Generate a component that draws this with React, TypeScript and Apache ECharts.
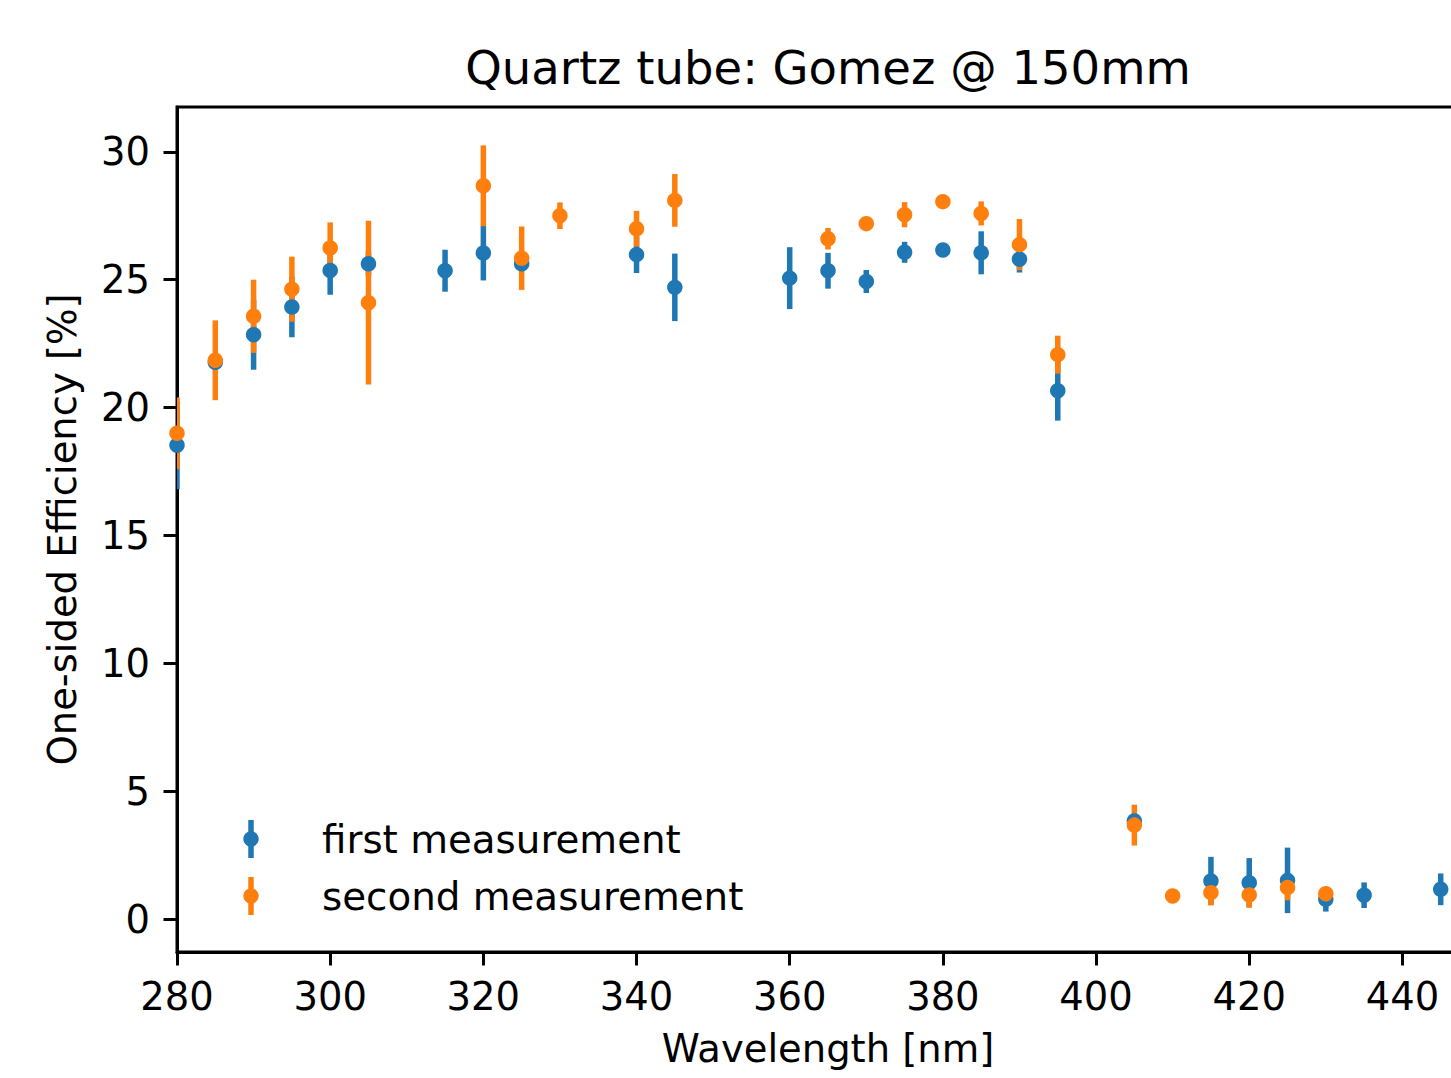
import React, { useEffect, useRef } from "react";
import * as echarts from "echarts";

const wavelengthsFirst = [280, 285, 290, 295, 300, 305, 315, 320, 325, 340, 345, 360, 365, 370, 375, 380, 385, 390, 395, 405, 415, 420, 425, 430, 435, 445];
const efficiencyFirst = [18.53, 21.77, 22.85, 23.93, 25.36, 25.62, 25.35, 26.04, 25.62, 25.98, 24.7, 25.06, 25.35, 24.93, 26.07, 26.16, 26.05, 25.8, 20.66, 3.84, 1.5, 1.43, 1.52, 0.78, 0.94, 1.17];
const errorFirst = [1.72, 0.3, 1.37, 1.18, 0.95, 0.5, 0.82, 1.07, 0.3, 0.72, 1.32, 1.21, 0.7, 0.45, 0.41, 0.2, 0.84, 0.52, 1.17, 0.3, 0.94, 0.96, 1.28, 0.48, 0.5, 0.62];

const wavelengthsSecond = [280, 285, 290, 295, 300, 305, 320, 325, 330, 340, 345, 365, 370, 375, 380, 385, 390, 395, 405, 410, 415, 420, 425, 430];
const efficiencySecond = [19.0, 21.85, 23.57, 24.63, 26.24, 24.1, 28.67, 25.84, 27.5, 26.99, 28.1, 26.6, 27.19, 27.54, 28.05, 27.59, 26.37, 22.07, 3.68, 0.91, 1.04, 0.95, 1.24, 1.0];
const errorSecond = [1.4, 1.56, 1.43, 1.27, 1.0, 3.2, 1.58, 1.24, 0.52, 0.7, 1.03, 0.42, 0.2, 0.49, 0.2, 0.47, 1.0, 0.74, 0.8, 0.1, 0.5, 0.5, 0.5, 0.2];

const xTicks = [280, 300, 320, 340, 360, 380, 400, 420, 440];
const yTicks = [0, 5, 10, 15, 20, 25, 30];
const seriesNames = ["first measurement", "second measurement"];
const titleText = "Quartz tube: Gomez @ 150mm";
const xName = "Wavelength [nm]";
const yName = "One-sided Efficiency [%]";

const BLUE = "#1f77b4";
const ORANGE = "#ff7f0e";
const FONT = "DejaVu Sans";

export default function App() {
  const ref = useRef<HTMLDivElement>(null);
  useEffect(() => {
    if (!ref.current) return;
    const chart = echarts.init(ref.current, undefined, { renderer: "svg" });

    const errData = (xs: number[], ys: number[], es: number[]) =>
      xs.map((x, i) => [x, ys[i], es[i]]);
    const ptData = (xs: number[], ys: number[]) => xs.map((x, i) => [x, ys[i]]);

    const errSeries = (name: string, data: number[][], color: string) => ({
      type: "custom",
      name,
      z: 2,
      clip: true,
      data,
      encode: { x: 0, y: 1 },
      renderItem: (params: any, api: any) => {
        const x = api.value(0);
        const y = api.value(1);
        const e = api.value(2);
        const p1 = api.coord([x, y - e]);
        const p2 = api.coord([x, y + e]);
        return {
          type: "line",
          shape: { x1: p1[0], y1: p1[1], x2: p2[0], y2: p2[1] },
          style: { stroke: color, lineWidth: 5.5 },
        };
      },
    });

    const legendItem = (y: number, color: string, label: string) => [
      {
        type: "line",
        shape: { x1: 251, y1: y - 19, x2: 251, y2: y + 19 },
        style: { stroke: color, lineWidth: 5.5 },
        z: 10,
      },
      {
        type: "circle",
        shape: { cx: 251, cy: y, r: 7.7 },
        style: { fill: color },
        z: 11,
      },
      {
        type: "text",
        x: 322,
        y: y,
        style: {
          text: label,
          fontFamily: FONT,
          fontSize: 38.8,
          fill: "#000",
          verticalAlign: "middle",
          align: "left",
        },
        z: 11,
      },
    ];

    chart.setOption({
      animation: false,
      backgroundColor: "#fff",
      title: {
        text: titleText,
        left: 828,
        top: 44,
        textAlign: "center",
        padding: 0,
        textStyle: { fontFamily: FONT, fontSize: 46.5, fontWeight: "normal", color: "#000" },
      },
      grid: {
        left: 177,
        top: 107,
        width: 1302,
        height: 845,
        show: true,
        borderColor: "#000",
        borderWidth: 3,
        backgroundColor: "transparent",
      },
      xAxis: {
        type: "value",
        min: 280,
        max: 450,
        interval: 20,
        name: xName,
        nameLocation: "middle",
        nameGap: 77,
        nameTextStyle: { fontFamily: FONT, fontSize: 38.5, color: "#000" },
        axisLine: { show: true, onZero: false, lineStyle: { color: "#000", width: 3 } },
        axisTick: { show: true, length: 13.5, customValues: xTicks, lineStyle: { color: "#000", width: 3 } },
        axisLabel: {
          fontFamily: FONT,
          fontSize: 38.5,
          color: "#000",
          margin: 25,
          customValues: xTicks,
        },
        splitLine: { show: false },
      },
      yAxis: {
        type: "value",
        min: -1.28,
        max: 31.75,
        name: yName,
        nameLocation: "middle",
        nameGap: 95,
        nameRotate: 90,
        nameTextStyle: { fontFamily: FONT, fontSize: 38.5, color: "#000" },
        axisLine: { show: true, onZero: false, lineStyle: { color: "#000", width: 3 } },
        axisTick: { show: true, length: 13.5, customValues: yTicks, lineStyle: { color: "#000", width: 3 } },
        axisLabel: { fontFamily: FONT, fontSize: 38.5, color: "#000", margin: 27, customValues: yTicks },
        splitLine: { show: false },
      },
      series: [
        errSeries(seriesNames[0] + " error", errData(wavelengthsFirst, efficiencyFirst, errorFirst), BLUE),
        errSeries(seriesNames[1] + " error", errData(wavelengthsSecond, efficiencySecond, errorSecond), ORANGE),
        {
          type: "scatter",
          name: seriesNames[0],
          z: 3,
          clip: true,
          symbol: "circle",
          symbolSize: 15.5,
          itemStyle: { color: BLUE, opacity: 1 },
          data: ptData(wavelengthsFirst, efficiencyFirst),
        },
        {
          type: "scatter",
          name: seriesNames[1],
          z: 3,
          clip: true,
          symbol: "circle",
          symbolSize: 15.5,
          itemStyle: { color: ORANGE, opacity: 1 },
          data: ptData(wavelengthsSecond, efficiencySecond),
        },
      ],
      graphic: [
        ...legendItem(839, BLUE, seriesNames[0]),
        ...legendItem(896, ORANGE, seriesNames[1]),
      ],
    });
    return () => chart.dispose();
  }, []);

  return (
    <div
      style={{
        position: "fixed",
        left: 0,
        top: 0,
        width: 1451,
        height: 1078,
        overflow: "hidden",
        background: "#fff",
      }}
    >
      <div ref={ref} style={{ width: 1520, height: 1078 }} />
    </div>
  );
}
